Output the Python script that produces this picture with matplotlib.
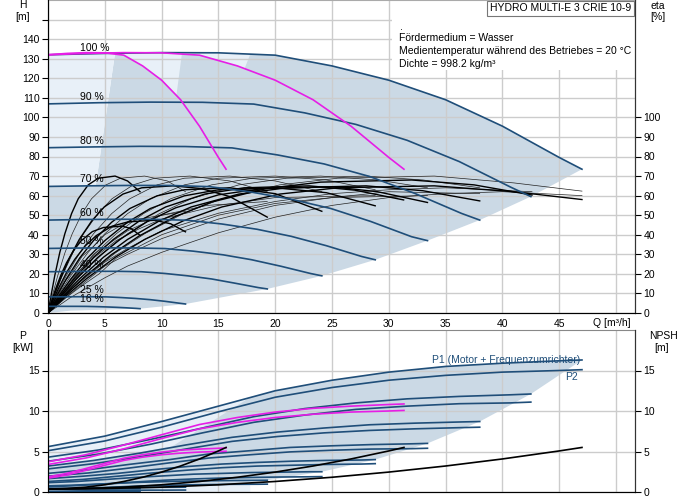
import matplotlib
matplotlib.use('Agg')
import matplotlib.pyplot as plt
from matplotlib.patches import Rectangle

plt.rcParams['font.family'] = ['Liberation Sans', 'DejaVu Sans']

# ---- data ----
speed_labels = ['100 %', '90 %', '80 %', '70 %', '60 %', '50 %', '40 %', '25 %', '16 %']

q_speed = [
    [0, 5, 10, 15, 20, 25, 30, 35, 40, 45, 47],
    [0, 4.52, 9.04, 13.6, 18.1, 22.6, 27.1, 31.6, 36.2, 40.7, 42.5],
    [0, 4.04, 8.09, 12.1, 16.2, 20.2, 24.3, 28.3, 32.3, 36.4, 38],
    [0, 3.55, 7.1, 10.7, 14.2, 17.8, 21.3, 24.9, 28.4, 32, 33.4],
    [0, 3.06, 6.13, 9.19, 12.3, 15.3, 18.4, 21.4, 24.5, 27.6, 28.8],
    [0, 2.56, 5.13, 7.69, 10.3, 12.8, 15.4, 17.9, 20.5, 23.1, 24.1],
    [0, 2.05, 4.11, 6.16, 8.21, 10.3, 12.3, 14.4, 16.4, 18.5, 19.3],
    [0, 1.29, 2.57, 3.86, 5.15, 6.44, 7.72, 9.01, 10.3, 11.6, 12.1],
    [0, 0.86, 1.72, 2.59, 3.45, 4.31, 5.17, 6.03, 6.89, 7.76, 8.1],
]
h_speed = [
    [132, 132.7, 133.1, 133, 131.8, 126.3, 119, 109, 95.5, 79.5, 73.5],
    [106.9, 107.5, 107.8, 107.7, 106.8, 102.3, 96.4, 88.3, 77.4, 64.4, 59.5],
    [84.5, 84.9, 85.2, 85.1, 84.4, 80.8, 76.2, 69.8, 61.1, 50.9, 47.5],
    [64.7, 65.0, 65.2, 65.2, 64.6, 61.9, 58.3, 53.4, 46.8, 39.0, 37],
    [47.5, 47.8, 47.9, 47.9, 47.4, 45.5, 42.8, 39.2, 34.4, 28.9, 27.2],
    [33, 33.2, 33.3, 33.25, 32.95, 31.6, 29.75, 27.25, 23.9, 20.2, 19],
    [21.1, 21.2, 21.3, 21.3, 21.1, 20.2, 19.0, 17.4, 15.3, 13.0, 12.3],
    [8.25, 8.29, 8.32, 8.31, 8.24, 7.89, 7.44, 6.81, 5.97, 4.97, 4.6],
    [3.4, 3.4, 3.4, 3.4, 3.37, 3.25, 3.1, 2.9, 2.65, 2.35, 2.2],
]
p1_speed = [
    [5.6, 6.9, 8.7, 10.6, 12.5, 13.8, 14.8, 15.5, 15.9, 16.2, 16.3],
    [4.3, 5.2, 6.5, 7.9, 9.3, 10.3, 11.0, 11.5, 11.8, 12.0, 12.1],
    [3.2, 3.9, 4.8, 5.8, 6.75, 7.4, 7.9, 8.3, 8.5, 8.65, 8.7],
    [2.3, 2.75, 3.4, 4.0, 4.7, 5.1, 5.5, 5.7, 5.85, 5.95, 6.0],
    [1.65, 1.95, 2.3, 2.75, 3.15, 3.45, 3.65, 3.8, 3.9, 3.95, 4.0],
    [1.15, 1.3, 1.55, 1.8, 2.0, 2.2, 2.3, 2.4, 2.45, 2.5, 2.5],
    [0.76, 0.84, 0.96, 1.08, 1.2, 1.28, 1.35, 1.39, 1.42, 1.44, 1.45],
    [0.45, 0.46, 0.48, 0.5, 0.52, 0.54, 0.56, 0.57, 0.58, 0.59, 0.6],
    [0.35, 0.35, 0.36, 0.36, 0.37, 0.37, 0.38, 0.38, 0.39, 0.39, 0.4],
]
p2_speed = [
    [5.1, 6.3, 8.0, 9.9, 11.7, 12.9, 13.8, 14.4, 14.8, 15.0, 15.1],
    [3.8, 4.7, 5.9, 7.3, 8.6, 9.5, 10.2, 10.6, 10.9, 11.0, 11.1],
    [2.85, 3.5, 4.35, 5.3, 6.25, 6.85, 7.3, 7.6, 7.8, 7.95, 8.0],
    [1.95, 2.35, 2.95, 3.6, 4.2, 4.6, 4.95, 5.15, 5.3, 5.35, 5.4],
    [1.3, 1.55, 1.95, 2.35, 2.7, 3.0, 3.2, 3.3, 3.4, 3.45, 3.5],
    [0.64, 0.79, 1.0, 1.24, 1.46, 1.61, 1.73, 1.8, 1.85, 1.88, 1.9],
    [0.33, 0.4, 0.51, 0.63, 0.75, 0.83, 0.88, 0.92, 0.95, 0.96, 0.97],
    [0.08, 0.1, 0.13, 0.15, 0.18, 0.2, 0.22, 0.23, 0.23, 0.24, 0.24],
    [0.02, 0.03, 0.03, 0.04, 0.05, 0.05, 0.05, 0.06, 0.06, 0.06, 0.06],
]

# one and two pumps at full speed (magenta)
q_one = [0, 1.67, 3.33, 5, 6.67, 8.33, 10, 11.67, 13.33, 15, 15.67]
q_two = [0, 3.33, 6.67, 10, 13.33, 16.67, 20, 23.33, 26.67, 30, 31.33]
h_full = [132, 132.7, 133.1, 133, 131.8, 126.3, 119, 109, 95.5, 79.5, 73.5]
p1_one = [1.87, 2.3, 2.9, 3.53, 4.17, 4.6, 4.93, 5.17, 5.3, 5.4, 5.43]
p2_one = [1.7, 2.1, 2.67, 3.3, 3.9, 4.3, 4.6, 4.8, 4.93, 5.0, 5.03]
p1_two = [3.73, 4.6, 5.8, 7.07, 8.33, 9.2, 9.87, 10.33, 10.6, 10.8, 10.87]
p2_two = [3.4, 4.2, 5.33, 6.6, 7.8, 8.6, 9.2, 9.6, 9.87, 10.0, 10.07]

# NPSH (3, 2 and 1 pumps share the same values over their own Q range)
npsh_vals = [0.37, 0.43, 0.6, 0.89, 1.3, 1.82, 2.46, 3.21, 4.08, 5.07, 5.5]

# efficiency curves
eta_thick_q = [
    [0, 0.3, 0.59, 1.03, 1.48, 2.07, 2.66, 3.54, 4.43, 5.9, 7.0, 8.1],
    [0, 0.33, 0.65, 1.14, 1.63, 2.28, 2.93, 3.9, 4.88, 6.5, 7.3, 8.1],
    [0, 0.47, 0.94, 1.65, 2.35, 3.29, 4.23, 5.64, 7.05, 9.4, 10.8, 12.1],
    [0, 0.55, 1.1, 1.93, 2.75, 3.85, 4.95, 6.6, 8.25, 11, 13.5, 16, 19.3],
    [0, 0.8, 1.6, 2.8, 4, 5.6, 7.2, 9.6, 12, 16, 20, 24.1],
    [0, 1, 2, 3.5, 5, 7, 9, 12, 15, 20, 24.5, 28.8],
    [0, 1.15, 2.3, 4.03, 5.75, 8.05, 10.35, 13.8, 17.25, 23, 27, 31.3],
    [0, 1.25, 2.5, 4.38, 6.25, 8.75, 11.25, 15, 18.75, 25, 29, 33.4],
    [0, 1.4, 2.8, 4.9, 7, 9.8, 12.6, 16.8, 21, 28, 33, 38],
    [0, 1.6, 3.2, 5.6, 8, 11.2, 14.4, 19.2, 24, 32, 37.5, 42.6],
    [0, 1.7, 3.4, 5.95, 8.5, 11.9, 15.3, 20.4, 25.5, 34, 41, 47],
]
eta_thick_e = [
    [0, 10, 19, 30.8, 40.5, 50.8, 58.4, 65.5, 68.9, 70, 67.5, 62],
    [0, 6.3, 12, 19.5, 25.7, 32.2, 37, 41.6, 43.7, 44.4, 43.2, 39.7],
    [0, 6.8, 12.8, 20.9, 27.4, 34.4, 39.5, 44.4, 46.6, 47.4, 45.6, 41.5],
    [0, 9.3, 17.6, 28.6, 37.6, 47.1, 54.2, 60.8, 64, 65, 63.6, 59.5, 49],
    [0, 9.2, 17.3, 28.2, 37, 46.4, 53.4, 59.9, 63, 64, 61, 52],
    [0, 9.2, 17.3, 28.2, 37, 46.4, 53.4, 59.9, 63, 64, 61.5, 54.8],
    [0, 9.3, 17.6, 28.6, 37.6, 47.1, 54.2, 60.8, 64, 65, 62.8, 57.8],
    [0, 9.2, 17.5, 28.4, 37.3, 46.8, 53.8, 60.4, 63.5, 64.5, 62, 56.5],
    [0, 9.3, 17.6, 28.6, 37.6, 47.1, 54.2, 60.8, 64, 65, 62.5, 57.3],
    [0, 9.7, 18.4, 29.9, 39.3, 49.3, 56.7, 63.6, 66.9, 68, 65.5, 60.3],
    [0, 9.3, 17.6, 28.6, 37.6, 47.1, 54.2, 60.8, 64, 65, 62, 58],
]
eta_thin_q = [
    [0, 0.43, 0.85, 1.49, 2.13, 2.98, 3.83, 5.1, 6.38, 8.5, 10.5, 12.1],
    [0, 0.63, 1.25, 2.19, 3.13, 4.38, 5.63, 7.5, 9.38, 12.5, 16, 19.3],
    [0, 0.8, 1.6, 2.8, 4, 5.6, 7.2, 9.6, 12, 16, 20, 24.1],
    [0, 1, 2, 3.5, 5, 7, 9, 12, 15, 20, 24.5, 28.8],
    [0, 1.2, 2.4, 4.2, 6, 8.4, 10.8, 14.4, 18, 24, 29, 33.4],
    [0, 1.4, 2.8, 4.9, 7, 9.8, 12.6, 16.8, 21, 28, 33, 38],
    [0, 1.7, 3.4, 5.95, 8.5, 11.9, 15.3, 20.4, 25.5, 34, 41, 47],
    [0, 1, 2, 3.5, 5, 7, 10, 15, 20, 25, 30, 35, 42.6],
    [0, 1, 2, 3.5, 5, 7, 10, 15, 20, 25, 30, 38],
    [0, 1, 2, 3.5, 5, 7, 10, 15, 20, 25, 30, 35, 40, 47],
    [0, 1.5, 3, 4.5, 6, 8, 10, 15, 20, 25, 33.4],
    [0, 1, 2, 3, 4, 6, 8, 10, 15, 20, 28.8],
    [0, 1, 2, 3, 4, 5.5, 7, 10, 14, 19.3],
    [0, 0.75, 1.5, 2.25, 3, 4, 5, 6.5, 8, 12.1],
]
eta_thin_e = [
    [0, 10, 19, 30.8, 40.5, 50.8, 58.4, 65.5, 68.9, 70, 67.5, 62],
    [0, 10, 19, 30.8, 40.5, 50.8, 58.4, 65.5, 68.9, 70, 67.5, 62],
    [0, 10, 19, 30.8, 40.5, 50.8, 58.4, 65.5, 68.9, 70, 67.5, 62],
    [0, 10, 19, 30.8, 40.5, 50.8, 58.4, 65.5, 68.9, 70, 68, 63],
    [0, 10, 19, 30.8, 40.5, 50.8, 58.4, 65.5, 68.9, 70, 68, 64],
    [0, 10, 19, 30.8, 40.5, 50.8, 58.4, 65.5, 68.9, 70, 68, 64],
    [0, 10, 19, 30.8, 40.5, 50.8, 58.4, 65.5, 68.9, 70, 66.5, 62.3],
    [0, 6, 12, 19, 26, 33, 42, 51, 57, 61, 63, 64, 62],
    [0, 5, 10, 17, 24, 30, 38, 48, 55, 59, 62, 61],
    [0, 4, 8, 13, 18, 24, 31, 41, 49, 55, 59, 61, 62, 60],
    [0, 7.5, 14, 20, 28, 34, 40, 50, 56, 59, 60],
    [0, 8, 15, 21, 28, 37, 43, 48, 55, 59, 60],
    [0, 9, 17, 23, 30, 36, 42, 50, 55, 57],
    [0, 8, 16, 22, 29, 34, 40, 45, 48, 52],
]

# boundaries of the shaded operating areas
light_q = [0, 5.9, 4.2, 0]
light_h = [132, 132.8, 65, 65]
patch_b_q = [5, 10, 11.8, 11.3, 10, 8.33, 6.67]
patch_b_h = [133, 133.1, 133.1, 111.2, 119, 126.3, 131.8]
patch_c_q = [11.8, 15, 17.8, 17.3, 16.67, 13.33, 11.8]
patch_c_h = [133.1, 133, 132.3, 124.9, 126.3, 131.8, 132.6]
area_left_q = [2, 0, 0, 4.2, 5.9]
area_left_h = [1.2, 0, 65, 65, 132.8]
p_left_q = [0, 0, 10.9, 17.8]
p_left_p = [0, 3.0, 5.6, 11.7]

NAVY = '#1f4e79'
MAG = '#e61ee6'
SHADE = '#cbd9e5'
LIGHT = '#e8f0f8'
GRID = '#cccccc'
XMAX = 51.67

fig = plt.figure(figsize=(6.91, 5.0), dpi=100)
ax = fig.add_axes([0.0695, 0.374, 0.8495, 0.626])
axp = fig.add_axes([0.0695, 0.016, 0.8495, 0.324])

# ---------- upper chart: H and eta ----------
ax.set_xlim(0, XMAX)
ax.set_ylim(0, 160)
ax.set_axisbelow(True)

# shaded area: top along 100 % curve, right through the curve end points
top_q = [q for q in q_speed[0] if q > 5.9]
top_h = [h for q, h in zip(q_speed[0], h_speed[0]) if q > 5.9]
ends_q = [c[-1] for c in q_speed[1:]]
ends_h = [c[-1] for c in h_speed[1:]]
ax.fill(top_q + ends_q + area_left_q, top_h + ends_h + area_left_h,
        color=SHADE, lw=0, zorder=0.2)
ax.fill(light_q, light_h, color=LIGHT, lw=0, zorder=0.3)
ax.fill(patch_b_q, patch_b_h, color=LIGHT, lw=0, zorder=0.3)
ax.fill(patch_c_q, patch_c_h, color=LIGHT, lw=0, zorder=0.3)

for qq, ee in zip(eta_thin_q, eta_thin_e):
    ax.plot(qq, ee, color='#222222', lw=0.5, zorder=2.5)
for qq, ee in zip(eta_thick_q, eta_thick_e):
    ax.plot(qq, ee, color='black', lw=1.0, zorder=2.6)

for lab, qq, hh in zip(speed_labels, q_speed, h_speed):
    ax.plot(qq, hh, color=NAVY, lw=1.2, zorder=3)
    ax.text(2.8, hh[0] + 3.6, lab, fontsize=7.5, ha='left', va='center', zorder=5)

ax.plot(q_one, h_full, color=MAG, lw=1.2, zorder=4)
ax.plot(q_two, h_full, color=MAG, lw=1.2, zorder=4)

ax.set_xticks(range(0, 51, 5))
ax.set_xticklabels([str(v) for v in range(0, 46, 5)] + [''])
ax.set_yticks(range(0, 151, 10))
ax.set_yticklabels([str(v) for v in range(0, 141, 10)] + [''])
ax.grid(True, color=GRID, lw=1.0)
ax.tick_params(axis='x', length=0, pad=4, labelsize=7.5)
ax.tick_params(axis='y', direction='out', length=4, width=0.8, pad=2, labelsize=7.5)
for s in ['left', 'bottom', 'right']:
    ax.spines[s].set_color('#333333')
ax.spines['top'].set_color('#aaaaaa')

ax2 = ax.twinx()
ax2.set_ylim(0, 160)
ax2.set_yticks(range(0, 101, 10))
ax2.tick_params(axis='y', direction='out', length=4, width=0.8, pad=2, labelsize=7.5)
ax2.spines['right'].set_color('#333333')
ax2.spines['top'].set_visible(False)

# info box
ax.add_patch(Rectangle((0.586, 0.776), 0.414, 0.224, transform=ax.transAxes,
                       facecolor='white', edgecolor='none', zorder=2))
ax.add_patch(Rectangle((0.748, 0.949), 0.25, 0.049, transform=ax.transAxes,
                       facecolor='white', edgecolor='#777777', lw=0.8, zorder=6))
ax.text(0.873, 0.973, 'HYDRO MULTI-E 3 CRIE 10-9', transform=ax.transAxes,
        fontsize=7.5, ha='center', va='center', zorder=7)
ax.text(0.599, 0.914, '.', transform=ax.transAxes, fontsize=7.5, va='center', zorder=7)
ax.text(0.598, 0.879, 'Fördermedium = Wasser', transform=ax.transAxes,
        fontsize=7.5, va='center', zorder=7)
ax.text(0.598, 0.837, 'Medientemperatur während des Betriebes = 20 °C',
        transform=ax.transAxes, fontsize=7.5, va='center', zorder=7)
ax.text(0.598, 0.796, 'Dichte = 998.2 kg/m³', transform=ax.transAxes,
        fontsize=7.5, va='center', zorder=7)

# ---------- lower chart: P and NPSH ----------
axp.set_xlim(0, XMAX)
axp.set_ylim(0, 20)
axp.set_axisbelow(True)

ptop_q = [17.8] + [q for q in q_speed[0] if q > 17.8]
ptop_p = [11.7] + [p for q, p in zip(q_speed[0], p1_speed[0]) if q > 17.8]
pend_q = [c[-1] for c in q_speed[1:]]
pend_p = [c[-1] for c in p1_speed[1:]]
light_pq = [0] + [q for q in q_speed[0] if q < 17.8] + [17.8, 17.8]
light_pp = [0] + [p for q, p in zip(q_speed[0], p1_speed[0]) if q < 17.8] + [11.7, 0]
axp.fill(light_pq, light_pp, color=LIGHT, lw=0, zorder=0.2)
axp.fill(ptop_q + pend_q + p_left_q, ptop_p + pend_p + p_left_p,
         color=SHADE, lw=0, zorder=0.3)

for qq, pa, pb in zip(q_speed, p1_speed, p2_speed):
    axp.plot(qq, pa, color=NAVY, lw=1.2, zorder=3)
    axp.plot(qq, pb, color=NAVY, lw=1.2, zorder=3)
axp.plot(q_one, p1_one, color=MAG, lw=1.2, zorder=4)
axp.plot(q_one, p2_one, color=MAG, lw=1.2, zorder=4)
axp.plot(q_two, p1_two, color=MAG, lw=1.2, zorder=4)
axp.plot(q_two, p2_two, color=MAG, lw=1.2, zorder=4)
for qq in (q_speed[0], q_two, q_one):
    axp.plot(qq, npsh_vals, color='black', lw=1.2, zorder=4.5)

axp.set_xticks(range(0, 51, 5))
axp.set_yticks([0, 5, 10, 15])
axp.grid(True, color=GRID, lw=1.0)
axp.tick_params(axis='x', length=0, labelbottom=False)
axp.tick_params(axis='y', direction='out', length=4, width=0.8, pad=2, labelsize=7.5)
for s in ['left', 'bottom', 'right']:
    axp.spines[s].set_color('#333333')
axp.spines['top'].set_color('#888888')

axp2 = axp.twinx()
axp2.set_ylim(0, 20)
axp2.set_yticks([0, 5, 10, 15])
axp2.tick_params(axis='y', direction='out', length=4, width=0.8, pad=2, labelsize=7.5)
axp2.spines['right'].set_color('#333333')
axp2.spines['top'].set_visible(False)

axp.text(0.654, 0.815, 'P1 (Motor + Frequenzumrichter)', transform=axp.transAxes,
         fontsize=7.5, color=NAVY, ha='left', va='center', zorder=6)
axp.text(0.903, 0.71, 'P2', transform=axp.transAxes,
         fontsize=7.5, color=NAVY, ha='right', va='center', zorder=6)

# axis titles
fig.text(23 / 691, 1 - 5 / 500, 'H', fontsize=7.5, ha='center', va='center')
fig.text(23 / 691, 1 - 17 / 500, '[m]', fontsize=7.5, ha='center', va='center')
fig.text(658 / 691, 1 - 6 / 500, 'eta', fontsize=7.5, ha='center', va='center')
fig.text(658 / 691, 1 - 17 / 500, '[%]', fontsize=7.5, ha='center', va='center')
fig.text(612 / 691, 1 - 323 / 500, 'Q [m³/h]', fontsize=7.5, ha='center', va='center')
fig.text(23 / 691, 1 - 336 / 500, 'P', fontsize=7.5, ha='center', va='center')
fig.text(23 / 691, 1 - 348 / 500, '[kW]', fontsize=7.5, ha='center', va='center')
fig.text(663 / 691, 1 - 336 / 500, 'NPSH', fontsize=7.5, ha='center', va='center')
fig.text(662 / 691, 1 - 348 / 500, '[m]', fontsize=7.5, ha='center', va='center')

fig.savefig('out.png', dpi=100)
